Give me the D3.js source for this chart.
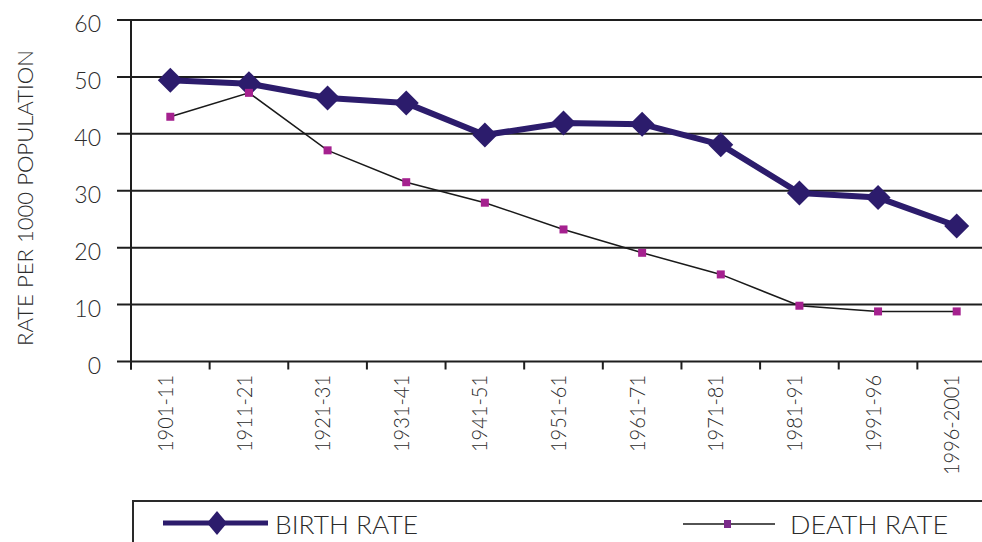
<!DOCTYPE html>
<html>
<head>
<meta charset="utf-8">
<script src="https://cdn.jsdelivr.net/npm/d3@7"></script>
<style>
  html, body { margin: 0; padding: 0; background: #fff; }
  svg { display: block; }
  text { font-family: "Lato", "Noto Sans", sans-serif; font-weight: 300; fill: #2b2b2b; }
</style>
</head>
<body>
<svg id="chart" width="982" height="542"></svg>
<script>
// Decadal periods
const periods = ["1901-11", "1911-21", "1921-31", "1931-41", "1941-51", "1951-61",
                 "1961-71", "1971-81", "1981-91", "1991-96", "1996-2001"];
// Rates per 1000 population
const birthRate = [49.4, 48.8, 46.3, 45.4, 39.8, 41.9, 41.7, 38.1, 29.6, 28.8, 23.8];
const deathRate = [43.0, 47.2, 37.1, 31.5, 27.9, 23.2, 19.1, 15.3, 9.8, 8.8, 8.8];
const yTicks = [0, 10, 20, 30, 40, 50, 60];

const svg = d3.select("#chart");
const W = 982;
const plotLeft = 131, plotRight = 996, plotTop = 20, plotBottom = 361.5;

const x = d3.scaleBand().domain(periods).range([plotLeft, plotRight]).paddingInner(0).paddingOuter(0);
const cx = d => x(d) + x.bandwidth() / 2;
const y = d3.scaleLinear().domain([0, 60]).range([plotBottom, plotTop]);

// Horizontal gridlines with short left ticks
svg.append("g").selectAll("line").data(yTicks).join("line")
  .attr("x1", 117).attr("x2", W)
  .attr("y1", d => y(d)).attr("y2", d => y(d))
  .attr("stroke", "#1e1e1e").attr("stroke-width", 2);

// Y axis labels
svg.append("g").selectAll("text").data(yTicks).join("text")
  .attr("x", 101).attr("y", d => y(d) + 3)
  .attr("text-anchor", "end").attr("dominant-baseline", "central")
  .attr("font-size", 23).attr("fill", "#333")
  .text(d => d);

// Vertical axis line
svg.append("line")
  .attr("x1", plotLeft).attr("x2", plotLeft).attr("y1", plotTop).attr("y2", plotBottom + 8)
  .attr("stroke", "#1e1e1e").attr("stroke-width", 2);

// Category tick marks below the baseline
svg.append("g").selectAll("line").data(periods).join("line")
  .attr("x1", d => x(d)).attr("x2", d => x(d))
  .attr("y1", plotBottom).attr("y2", plotBottom + 8)
  .attr("stroke", "#1e1e1e").attr("stroke-width", 2);

// Rotated category labels
svg.append("g").selectAll("text").data(periods).join("text")
  .attr("transform", d => `translate(${cx(d) - 5},375) rotate(-90)`)
  .attr("text-anchor", "end").attr("dy", "0.36em")
  .attr("font-size", 21).attr("fill", "#333")
  .attr("textLength", d => d.length === 7 ? 77 : 100)
  .attr("lengthAdjust", "spacingAndGlyphs")
  .text(d => d);

// Y axis title
svg.append("text")
  .attr("transform", "translate(24,198) rotate(-90)")
  .attr("text-anchor", "middle").attr("dominant-baseline", "central")
  .attr("font-size", 22).attr("fill", "#333")
  .attr("textLength", 296).attr("lengthAdjust", "spacingAndGlyphs")
  .text("RATE PER 1000 POPULATION");

const birthColor = "#2c1c6c";
const deathColor = "#a5218f";
const line = d3.line().x((d, i) => cx(periods[i])).y(d => y(d));

// Birth rate series
svg.append("path").datum(birthRate)
  .attr("d", line).attr("fill", "none")
  .attr("stroke", birthColor).attr("stroke-width", 6).attr("stroke-linejoin", "round");
svg.append("g").selectAll("path").data(birthRate).join("path")
  .attr("transform", (d, i) => `translate(${cx(periods[i])},${y(d)})`)
  .attr("d", "M0,-12.5L12.5,0L0,12.5L-12.5,0Z")
  .attr("fill", birthColor);

// Death rate series
svg.append("path").datum(deathRate)
  .attr("d", line).attr("fill", "none")
  .attr("stroke", "#1a1a1a").attr("stroke-width", 1.5);
svg.append("g").selectAll("rect").data(deathRate).join("rect")
  .attr("x", (d, i) => cx(periods[i]) - 4).attr("y", d => y(d) - 4)
  .attr("width", 8).attr("height", 8)
  .attr("fill", deathColor);

// Legend box
svg.append("rect")
  .attr("x", 133).attr("y", 501).attr("width", 900).attr("height", 80)
  .attr("fill", "none").attr("stroke", "#2a2a2a").attr("stroke-width", 2);

const lg = svg.append("g");
lg.append("line").attr("x1", 163).attr("x2", 268).attr("y1", 523).attr("y2", 523)
  .attr("stroke", birthColor).attr("stroke-width", 5);
lg.append("path").attr("transform", "translate(217,523)")
  .attr("d", "M0,-12L10,0L0,12L-10,0Z").attr("fill", birthColor);
lg.append("text").attr("x", 275).attr("y", 524)
  .attr("dominant-baseline", "central").attr("font-size", 25).attr("fill", "#333")
  .attr("textLength", 143).attr("lengthAdjust", "spacingAndGlyphs")
  .text("BIRTH RATE");

lg.append("line").attr("x1", 683).attr("x2", 775).attr("y1", 524).attr("y2", 524)
  .attr("stroke", "#1a1a1a").attr("stroke-width", 1.5);
lg.append("rect").attr("x", 724).attr("y", 520).attr("width", 7).attr("height", 8)
  .attr("fill", "#7a2a8a");
lg.append("text").attr("x", 790).attr("y", 524)
  .attr("dominant-baseline", "central").attr("font-size", 25).attr("fill", "#333")
  .attr("textLength", 158).attr("lengthAdjust", "spacingAndGlyphs")
  .text("DEATH RATE");
</script>
</body>
</html>
